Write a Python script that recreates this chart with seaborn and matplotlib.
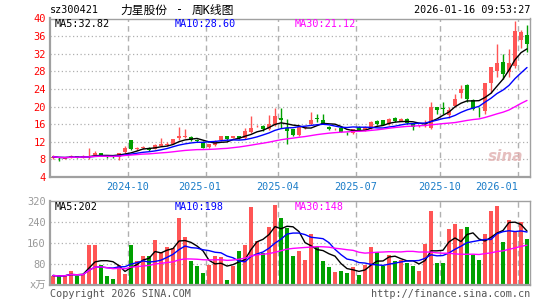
import numpy as np
import pandas as pd
import matplotlib
matplotlib.use("Agg")
import matplotlib.pyplot as plt
import seaborn as sns

# ---------------- data (weekly K-line, 80 weeks) ----------------
opens = [8.3, 8.5, 8.2, 8.4, 8.7, 8.5, 8.6, 9.0, 9.5, 8.7,
         8.6, 8.6, 9.7, 12.3, 10.3, 10.6, 10.6, 10.4, 11.1, 11.2,
         11.5, 12.8, 13.0, 13.0, 12.4, 12.0, 10.75, 11.3, 12.4, 13.2,
         12.9, 13.3, 12.8, 14.3, 15.5, 15.6, 14.9, 15.8, 17.3, 15.1,
         14.8, 13.5, 15.2, 16.0, 17.4, 16.9, 15.4, 14.85, 15.1, 14.0,
         13.9, 15.3, 14.5, 15.1, 16.7, 16.9, 16.0, 17.3, 16.8, 17.2,
         16.0, 15.5, 15.6, 15.1, 20.0, 19.7, 18.1, 20.1, 23.1, 24.8,
         21.5, 19.7, 19.0, 25.3, 28.1, 30.1, 27.8, 29.1, 35.2, 36.3]
closes = [8.6, 8.3, 8.35, 8.7, 8.5, 8.7, 8.8, 9.5, 9.0, 8.5,
          8.5, 9.5, 10.6, 10.3, 10.6, 10.8, 10.1, 11.3, 11.5, 11.4,
          12.6, 13.3, 13.3, 12.4, 12.2, 10.6, 11.4, 12.0, 13.2, 12.6,
          13.3, 12.8, 14.4, 15.2, 15.6, 15.0, 16.0, 17.9, 17.0, 14.5,
          13.5, 15.3, 15.4, 16.9, 17.2, 16.1, 14.8, 15.0, 14.3, 13.9,
          14.8, 14.7, 15.4, 16.6, 16.0, 15.8, 17.1, 16.8, 17.2, 16.2,
          15.4, 15.6, 15.8, 20.0, 19.2, 19.5, 19.3, 21.7, 24.1, 21.8,
          19.5, 19.6, 25.3, 28.9, 29.9, 27.4, 29.9, 37.1, 36.9, 34.2]
highs = [8.9, 8.6, 8.5, 8.9, 8.8, 8.9, 10.6, 9.9, 9.5, 8.8,
         8.7, 9.5, 11.1, 12.4, 10.8, 11.0, 10.8, 11.5, 12.9, 12.0,
         12.7, 15.3, 14.9, 13.3, 12.6, 12.1, 11.6, 12.3, 13.4, 13.3,
         13.4, 13.4, 15.1, 17.9, 15.8, 15.8, 18.1, 19.6, 19.7, 17.1,
         15.0, 15.4, 15.6, 18.7, 18.2, 18.2, 15.6, 15.2, 15.3, 14.2,
         15.0, 15.5, 15.6, 16.8, 17.0, 17.0, 17.3, 17.7, 17.4, 17.4,
         16.2, 15.8, 16.9, 21.1, 20.0, 21.0, 20.0, 22.8, 25.0, 25.2,
         21.7, 19.8, 25.3, 28.9, 34.2, 32.0, 33.1, 39.4, 37.5, 38.6]
lows = [8.0, 7.7, 8.1, 8.3, 8.4, 8.4, 8.1, 8.9, 8.9, 8.3,
        8.3, 7.9, 9.5, 10.1, 10.2, 10.4, 10.0, 10.3, 11.0, 11.0,
        11.4, 12.5, 12.8, 12.2, 12.0, 10.5, 10.5, 11.0, 12.2, 12.5,
        12.8, 12.7, 12.6, 14.0, 15.3, 14.4, 14.7, 15.6, 15.2, 11.5,
        13.3, 13.3, 15.0, 15.8, 16.6, 16.0, 14.6, 14.6, 14.2, 13.6,
        13.8, 14.6, 14.4, 15.0, 15.9, 15.7, 15.9, 16.6, 16.7, 16.0,
        14.7, 15.3, 15.4, 14.9, 18.3, 18.2, 17.5, 20.0, 22.0, 21.1,
        19.3, 17.6, 18.3, 23.1, 26.8, 26.3, 26.8, 28.8, 33.3, 32.5]
volumes = [35, 32, 35, 53, 35, 42, 152, 152, 76, 35,
           23, 76, 42, 152, 91, 108, 110, 171, 126, 142,
           139, 254, 180, 91, 73, 46, 76, 110, 104, 19,
           73, 129, 152, 296, 167, 120, 220, 304, 254, 215,
           110, 129, 94, 194, 142, 91, 68, 49, 53, 46,
           68, 38, 76, 144, 123, 71, 114, 91, 96, 83,
           72, 53, 156, 281, 83, 83, 212, 231, 212, 218,
           114, 95, 194, 281, 300, 163, 247, 200, 237, 175]

price_ticks = [4, 8, 12, 16, 20, 24, 28, 32, 36, 40]
vol_ticks = [80, 160, 240, 320]
month_labels = ["2024-10", "2025-01", "2025-04", "2025-07", "2025-10", "2026-01"]
month_lines = [12.5, 25.5, 37.5, 50.5, 64.5, 77.5]
month_label_pos = [12.5, 24.5, 37.5, 50.5, 64.5, 73.9]

RED = "#ff5555"
GREEN = "#00a000"

df = pd.DataFrame({"week": np.arange(len(closes)), "open": opens, "high": highs,
                   "low": lows, "close": closes, "volume": volumes})
df["dir"] = np.where(df["close"] >= df["open"], "up", "down")
df["col"] = np.where(df["dir"] == "up", RED, GREEN)
for n in (5, 10, 30):
    df[f"ma{n}"] = df["close"].rolling(n, min_periods=1).mean()
    df[f"vma{n}"] = df["volume"].rolling(n, min_periods=1).mean()

sns.set_theme(style="white")
plt.rcParams["font.family"] = ["DejaVu Sans Mono", "Noto Sans CJK SC"]

W, H = 545, 300
fig = plt.figure(figsize=(W / 100, H / 100), dpi=100)
fig.patch.set_facecolor("white")
ax1 = fig.add_axes([50 / W, 1 - 177 / H, 480 / W, 158.5 / H])
ax2 = fig.add_axes([50 / W, 1 - 284.7 / H, 480 / W, 84 / H])

grid_kw = dict(color="#b0b0b0", lw=0.9, linestyle=(0, (1, 2)), zorder=0)
vline_kw = dict(color="#b0b0b0", lw=1.0, linestyle=(0, (4, 3)), zorder=0)

# ---------------- price panel ----------------
for t in price_ticks[1:-1]:
    ax1.axhline(t, **grid_kw)
for x in month_lines:
    ax1.axvline(x, **vline_kw)

body_lo = np.minimum(df["open"], df["close"])
body_h = np.maximum(np.abs(df["close"] - df["open"]), 0.15)
ax1.vlines(df["week"], df["low"], df["high"], colors=df["col"], lw=1, zorder=2)
ax1.bar(df["week"], body_h, bottom=body_lo, width=0.78, color=df["col"], lw=0, zorder=3)

sns.lineplot(x=df["week"], y=df["ma5"], color="black", lw=1, ax=ax1, zorder=4)
sns.lineplot(x=df["week"], y=df["ma10"], color="#0000ff", lw=1, ax=ax1, zorder=4)
sns.lineplot(x=df["week"], y=df["ma30"], color="#ff00ff", lw=1, ax=ax1, zorder=4)

ax1.set_xlim(-0.5, 79.5)
ax1.set_ylim(4, 40)
ax1.set_yticks(price_ticks)
ax1.set_yticklabels([str(t) for t in price_ticks])
ax1.tick_params(axis="y", length=0, pad=3, labelcolor="#ff0000", labelsize=7.5)
ax1.set_xticks([])
ax1.set_xlabel("")
ax1.set_ylabel("")
for lab, pos in zip(month_labels, month_label_pos):
    ax1.text(pos, -0.062, lab, transform=ax1.get_xaxis_transform(), ha="center",
             va="center", color="#1a7cc8", fontsize=7.3)

ax1.text(0.01, 0.965, "MA5:32.82", transform=ax1.transAxes, color="black",
         fontsize=7.3, va="center", ha="left")
ax1.text(0.26, 0.965, "MA10:28.60", transform=ax1.transAxes, color="#0000ff",
         fontsize=7.3, va="center", ha="left")
ax1.text(0.51, 0.965, "MA30:21.12", transform=ax1.transAxes, color="#ff00ff",
         fontsize=7.3, va="center", ha="left")
ax1.text(75.5, 8.6, "sina", color="#e0b0b0", fontsize=11, fontweight="bold",
         style="italic", ha="center", va="center", family="DejaVu Sans", alpha=0.8, zorder=1)

# ---------------- volume panel ----------------
for t in vol_ticks[:-1]:
    ax2.axhline(t, **grid_kw)
for x in month_lines:
    ax2.axvline(x, **vline_kw)

sns.barplot(data=df, x="week", y="volume", hue="dir", palette={"up": RED, "down": GREEN},
            dodge=False, width=0.83, saturation=1, legend=False, linewidth=0, ax=ax2, zorder=2)
sns.lineplot(x=df["week"], y=df["vma5"], color="black", lw=1, ax=ax2, zorder=4)
sns.lineplot(x=df["week"], y=df["vma10"], color="#0000ff", lw=1, ax=ax2, zorder=4)
sns.lineplot(x=df["week"], y=df["vma30"], color="#ff00ff", lw=1, ax=ax2, zorder=4)

ax2.set_xlim(-0.5, 79.5)
ax2.set_ylim(0, 320)
ax2.set_yticks([0] + vol_ticks)
ax2.set_yticklabels(["x万"] + [str(t) for t in vol_ticks])
ax2.tick_params(axis="y", length=0, pad=3, labelcolor="#999999", labelsize=7.5)
ax2.set_xticks([])
ax2.set_xlabel("")
ax2.set_ylabel("")
ax2.text(0.01, 0.93, "MA5:202", transform=ax2.transAxes, color="black",
         fontsize=7.3, va="center", ha="left")
ax2.text(0.26, 0.93, "MA10:198", transform=ax2.transAxes, color="#0000ff",
         fontsize=7.3, va="center", ha="left")
ax2.text(0.51, 0.93, "MA30:148", transform=ax2.transAxes, color="#ff00ff",
         fontsize=7.3, va="center", ha="left")

for ax in (ax1, ax2):
    for s in ax.spines.values():
        s.set_color("#a0a0a0")
        s.set_linewidth(1.0)
    ax.spines["left"].set_linewidth(1.6)
    ax.spines["bottom"].set_linewidth(1.6)
    ax.set_facecolor("white")

# ---------------- header / footer ----------------
fig.text(50 / W, 1 - 10 / H, "sz300421", fontsize=7.3, color="black", ha="left", va="center")
fig.text(120 / W, 1 - 10 / H, "力星股份", fontsize=8.5, color="black", ha="left", va="center")
fig.text(176 / W, 1 - 10 / H, "-", fontsize=8.5, color="black", ha="left", va="center")
fig.text(192 / W, 1 - 10 / H, "周K线图", fontsize=8.5, color="black", ha="left", va="center")
fig.text(530 / W, 1 - 10 / H, "2026-01-16 09:53:27", fontsize=7.3, color="black",
         ha="right", va="center")
fig.text(50 / W, 1 - 294 / H, "Copyright 2026 SINA.COM", fontsize=7.3, color="#555555",
         ha="left", va="center")
fig.text(530 / W, 1 - 294 / H, "http://finance.sina.com.cn", fontsize=7.3, color="#555555",
         ha="right", va="center")

fig.savefig("out.png", dpi=100, facecolor="white")
